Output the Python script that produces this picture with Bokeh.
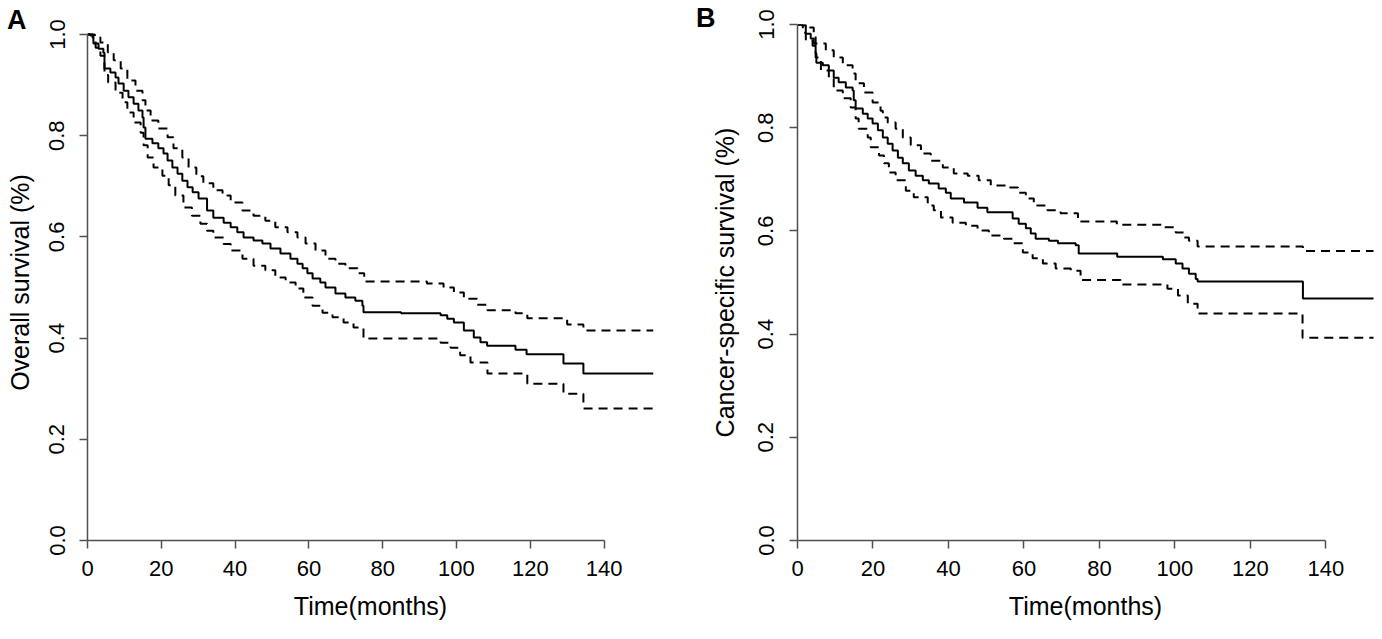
from bokeh.plotting import figure
from bokeh.layouts import row
from bokeh.models import Range1d, FixedTicker, NumeralTickFormatter, Div
from bokeh.embed import file_html
from bokeh.resources import INLINE

# ---------------- data ----------------
x_ticks = [0, 20, 40, 60, 80, 100, 120, 140]
y_ticks = [0.0, 0.2, 0.4, 0.6, 0.8, 1.0]

# Panel A: overall survival
os_time = [0, 0.8, 1.6, 3.0, 4.3, 4.6, 6.2, 7.6, 8.4, 9.8, 11.1, 12.5, 13.8, 14.9, 15.2,
           15.7, 17.6, 19.2, 20.6, 21.7, 23.0, 24.4, 25.7, 27.1, 28.5, 30.1, 32.4, 34.1, 36.9,
           38.8, 40.6, 42.3, 45.0, 47.4, 49.6, 52.3, 55.0, 56.9, 58.3, 59.6, 61.0, 63.1, 64.5,
           67.2, 69.9, 72.6, 74.5, 74.8, 85.0, 95.7, 97.5, 99.3, 102.0, 104.7, 106.5, 108.3,
           116.0, 119.0, 129.0, 134.4, 153.4]
os_surv = [1.0, 0.998, 0.982, 0.972, 0.964, 0.933, 0.925, 0.915, 0.903, 0.889, 0.876, 0.863,
           0.85, 0.836, 0.816, 0.794, 0.785, 0.775, 0.765, 0.751, 0.737, 0.725, 0.711, 0.698,
           0.688, 0.676, 0.652, 0.638, 0.628, 0.619, 0.609, 0.599, 0.593, 0.587, 0.577, 0.567,
           0.557, 0.547, 0.538, 0.528, 0.518, 0.51, 0.5, 0.488, 0.48, 0.474, 0.464, 0.451,
           0.449, 0.445, 0.438, 0.431, 0.415, 0.401, 0.392, 0.385, 0.377, 0.368, 0.35, 0.33, 0.33]

os_up_time = [0, 2.0, 3.5, 5.5, 7.1, 9.0, 10.8, 13.0, 14.9, 15.7, 17.1, 19.2, 21.7, 23.3, 25.7,
              27.4, 29.5, 31.4, 34.1, 36.6, 38.8, 42.0, 45.0, 48.2, 50.9, 54.2, 56.9, 59.1, 61.8,
              64.5, 67.2, 69.9, 73.2, 75.0, 92.0, 96.5, 99.3, 102.0, 105.6, 108.4, 116.0, 119.2,
              130.0, 134.4, 153.4]
os_up = [1.0, 0.994, 0.984, 0.965, 0.949, 0.933, 0.909, 0.889, 0.87, 0.85, 0.83, 0.814, 0.797,
         0.775, 0.757, 0.737, 0.72, 0.706, 0.692, 0.682, 0.668, 0.652, 0.642, 0.632, 0.619, 0.609,
         0.599, 0.587, 0.573, 0.557, 0.547, 0.538, 0.528, 0.512, 0.508, 0.5, 0.49, 0.478, 0.466,
         0.455, 0.449, 0.439, 0.427, 0.415, 0.415]

os_lo_time = [0, 1.4, 2.2, 3.5, 4.6, 5.6, 7.6, 9.5, 10.8, 12.5, 14.4, 15.2, 16.3, 17.9, 20.3,
              22.0, 23.8, 26.0, 28.3, 30.6, 32.4, 34.1, 36.9, 38.8, 42.0, 45.0, 48.2, 50.9, 53.7,
              56.4, 58.5, 61.0, 63.7, 66.4, 69.4, 72.1, 74.8, 95.7, 98.4, 101.0, 103.8, 108.4,
              119.2, 129.0, 134.4, 153.4]
os_lo = [1.0, 0.988, 0.974, 0.958, 0.92, 0.905, 0.885, 0.866, 0.846, 0.826, 0.806, 0.781, 0.757,
         0.737, 0.721, 0.702, 0.682, 0.658, 0.642, 0.626, 0.612, 0.599, 0.586, 0.573, 0.557,
         0.543, 0.534, 0.52, 0.51, 0.498, 0.48, 0.464, 0.45, 0.441, 0.431, 0.421, 0.399, 0.391,
         0.381, 0.366, 0.352, 0.33, 0.31, 0.29, 0.261, 0.261]

# Panel B: cancer-specific survival
css_time = [0, 1.2, 2.2, 3.5, 4.3, 4.8, 5.0, 6.7, 8.3, 9.6, 10.9, 12.8, 14.6, 14.9, 15.4, 17.3,
            18.6, 19.9, 21.3, 22.6, 23.9, 25.2, 26.6, 27.9, 29.5, 31.3, 33.2, 34.8, 37.4, 39.3,
            40.6, 44.1, 47.7, 50.3, 57.0, 58.6, 60.5, 61.8, 63.1, 66.6, 69.0, 73.7, 74.5, 84.7,
            96.8, 100.2, 102.0, 103.7, 105.5, 106.0, 133.9, 153.3]
css_surv = [1.0, 0.998, 0.982, 0.973, 0.963, 0.944, 0.926, 0.921, 0.911, 0.897, 0.888, 0.878,
            0.872, 0.853, 0.837, 0.827, 0.818, 0.808, 0.795, 0.781, 0.769, 0.756, 0.742, 0.731,
            0.717, 0.707, 0.698, 0.692, 0.682, 0.674, 0.663, 0.655, 0.645, 0.636, 0.624, 0.614,
            0.605, 0.595, 0.585, 0.581, 0.576, 0.572, 0.556, 0.55, 0.545, 0.537, 0.527, 0.517,
            0.507, 0.502, 0.469, 0.469]

css_up_time = [0, 3.0, 4.3, 4.8, 7.5, 9.6, 12.0, 14.6, 15.4, 17.6, 19.9, 22.0, 22.6, 23.9, 26.0,
               27.9, 30.0, 32.7, 35.3, 38.5, 41.4, 45.1, 48.0, 51.2, 55.7, 58.4, 60.5, 62.6, 66.2,
               69.7, 74.3, 84.6, 97.0, 100.2, 102.4, 103.7, 106.0, 133.9, 153.3]
css_up = [1.0, 0.994, 0.979, 0.963, 0.95, 0.936, 0.921, 0.905, 0.886, 0.868, 0.849, 0.833, 0.82,
          0.81, 0.798, 0.781, 0.766, 0.75, 0.736, 0.723, 0.711, 0.707, 0.698, 0.688, 0.684,
          0.674, 0.663, 0.649, 0.64, 0.634, 0.618, 0.612, 0.607, 0.597, 0.587, 0.581, 0.57,
          0.561, 0.561]

css_lo_time = [0, 1.4, 2.2, 4.0, 4.8, 6.2, 8.3, 9.6, 12.0, 14.1, 15.4, 16.2, 18.6, 19.4, 21.6,
               22.9, 24.2, 26.0, 28.7, 30.8, 34.5, 36.1, 38.0, 41.1, 44.6, 47.7, 50.7, 54.7, 57.0,
               59.7, 62.3, 65.0, 68.4, 72.4, 75.0, 85.6, 98.0, 100.8, 103.4, 106.0, 133.8, 153.3]
css_lo = [1.0, 0.984, 0.969, 0.959, 0.936, 0.911, 0.895, 0.872, 0.857, 0.839, 0.818, 0.798,
          0.781, 0.762, 0.746, 0.731, 0.713, 0.698, 0.678, 0.665, 0.649, 0.64, 0.626, 0.616,
          0.61, 0.601, 0.591, 0.585, 0.576, 0.558, 0.547, 0.537, 0.527, 0.523, 0.505, 0.496,
          0.488, 0.475, 0.459, 0.44, 0.393, 0.393]

FONT = "Liberation Sans"
AXIS_COLOR = "#505050"
DASH = "9 6"


def make_panel(width, height, border, x_end, y_end, ylabel, curves, ystand):
    left, right, top, bottom = border
    p = figure(width=width, height=height, output_backend="svg", toolbar_location=None,
               x_range=Range1d(0, x_end), y_range=Range1d(0, y_end),
               min_border_left=left, min_border_right=right,
               min_border_top=top, min_border_bottom=bottom)
    p.outline_line_color = None
    p.grid.visible = False
    p.background_fill_color = "white"
    p.border_fill_color = "white"

    for ax in (p.xaxis[0], p.yaxis[0]):
        ax.axis_line_color = AXIS_COLOR
        ax.axis_line_width = 1.5
        ax.major_tick_line_color = AXIS_COLOR
        ax.major_tick_line_width = 1.5
        ax.major_tick_out = 8
        ax.major_tick_in = 0
        ax.minor_tick_line_color = None
        ax.major_label_text_font = FONT
        ax.major_label_text_font_size = "22px"
        ax.major_label_text_color = "black"
        ax.axis_label_text_font = FONT
        ax.axis_label_text_font_size = "25px"
        ax.axis_label_text_font_style = "normal"
        ax.axis_label_text_color = "black"

    p.xaxis.ticker = FixedTicker(ticks=x_ticks)
    p.xaxis.bounds = (0, 140)
    p.xaxis.axis_label = "Time(months)"
    p.xaxis.major_label_standoff = 12
    p.xaxis.axis_label_standoff = 13

    p.yaxis.ticker = FixedTicker(ticks=y_ticks)
    p.yaxis.formatter = NumeralTickFormatter(format="0.0")
    p.yaxis.bounds = (0, 1)
    p.yaxis.major_label_orientation = "vertical"
    p.yaxis.axis_label = ylabel
    p.yaxis.major_label_standoff = ystand[0]
    p.yaxis.axis_label_standoff = ystand[1]

    for (t, s, dashed) in curves:
        p.step(t, s, mode="after", line_color="black", line_width=2,
               line_dash=DASH if dashed else "solid")
    return p


# Both frames share top (24px) and bottom (540px); panel A's y-scale is a bit
# shorter so its 1.0 sits lower, as in the reference.
pA = make_panel(660, 623, (87, 7, 24, 83), 153.4, 516 / 506, "Overall survival (%)",
                [(os_time, os_surv, False), (os_up_time, os_up, True), (os_lo_time, os_lo, True)],
                (15, 13))
pB = make_panel(714, 623, (137, 1, 24, 83), 152.6, 1.0, "Cancer-specific survival (%)",
                [(css_time, css_surv, False), (css_up_time, css_up, True),
                 (css_lo_time, css_lo, True)],
                (16, 17))


def letter(text, left, top):
    return Div(text=text, width=30, height=30,
               styles={"position": "absolute", "left": f"{left}px", "top": f"{top}px",
                       "font-family": FONT, "font-size": "27px", "font-weight": "bold",
                       "line-height": "1", "color": "black", "z-index": "10"})


layout = row(pA, pB, letter("A", 2, 2), letter("B", 691, 0))
open("out.html", "w").write(file_html(layout, INLINE))
